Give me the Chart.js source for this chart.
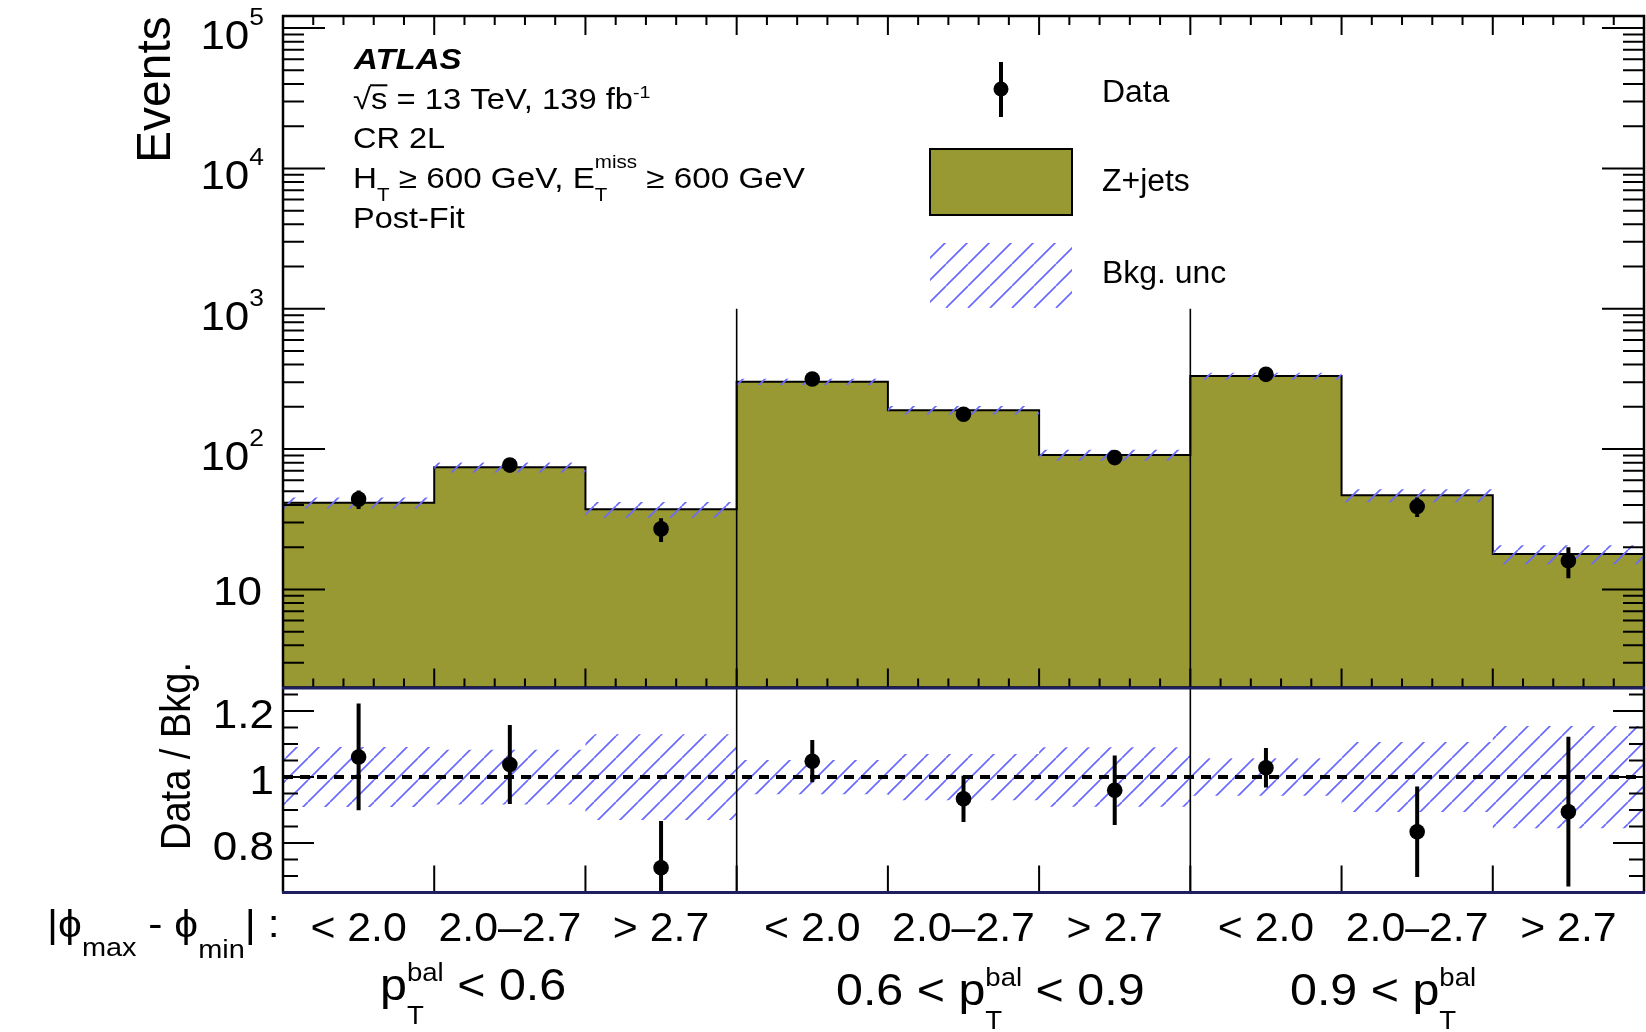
<!DOCTYPE html>
<html lang="en">
<head>
<meta charset="UTF-8">
<title>CR 2L post-fit yields</title>
<script src="https://cdn.jsdelivr.net/npm/chart.js"></script>
<style>
    body { margin: 0; background: #fff; }
    #wrap { position: relative; width: 1646px; height: 1032px; }
    canvas { position: absolute; left: 0; }
    #upper { top: 0; }
    #lower { top: 560px; }
</style>
</head>
<body>
<div id="wrap">
    <canvas id="upper" width="1646" height="688"></canvas>
    <canvas id="lower" width="1646" height="472"></canvas>
</div>
<script>
// nine bins: three |phi_max - phi_min| ranges in each of three pT^bal ranges
const phiBins = ['< 2.0', '2.0\u20132.7', '> 2.7', '< 2.0', '2.0\u20132.7', '> 2.7', '< 2.0', '2.0\u20132.7', '> 2.7'];
const zjetsYield = [41.5, 74.2, 37.2, 301.5, 189.5, 90.6, 331.5, 46.8, 17.9];
const dataYield = [44, 77, 27, 316, 177, 87, 341, 39, 16];
const dataErr = [6.6, 8.8, 5.2, 17.8, 13.3, 9.3, 18.5, 6.2, 4.0];
const bkgRelUnc = [0.091, 0.083, 0.13, 0.052, 0.07, 0.09, 0.057, 0.106, 0.155];
const ratioVal = [1.061, 1.038, 0.725, 1.048, 0.934, 0.960, 1.028, 0.834, 0.895];
const ratioErr = [0.162, 0.12, 0.142, 0.064, 0.07, 0.105, 0.06, 0.137, 0.227];
const regionEdges = [3, 6];
const decadeTicks = [10, 100, 1000, 10000, 100000];
const ratioTicks = [0.8, 1, 1.2];

const FONT = '"Liberation Sans", Arial, Helvetica, sans-serif';
const OLIVE = '#999933';
const HATCH = '#6a6aff';
const NAVY = '#1e1e60';
const LOWER_TOP = 560;

// diagonal hatch used for the background uncertainty
function hatchPattern() {
    const s = 22;
    const tile = document.createElement('canvas');
    tile.width = s; tile.height = s;
    const g = tile.getContext('2d');
    g.strokeStyle = HATCH;
    g.lineWidth = 1.7;
    g.beginPath();
    for (const o of [-s, 0, s]) { g.moveTo(o, s); g.lineTo(o + s, 0); }
    g.stroke();
    return g.createPattern(tile, 'repeat');
}
const hatch = hatchPattern();

// histogram outline: each bin becomes a flat segment
function steps(vals) {
    const pts = [];
    vals.forEach((v, i) => { pts.push({x: i, y: v}, {x: i + 1, y: v}); });
    return pts;
}
function centres(vals) {
    return vals.map((v, i) => ({x: i + 0.5, y: v}));
}
function errorBars(vals, errs) {
    const pts = [];
    vals.forEach((v, i) => {
        pts.push({x: i + 0.5, y: v - errs[i]}, {x: i + 0.5, y: v + errs[i]}, {x: i + 0.5, y: null});
    });
    return pts;
}
function verticals(lo, hi) {
    const pts = [];
    regionEdges.forEach(e => { pts.push({x: e, y: lo}, {x: e, y: hi}, {x: e, y: null}); });
    return pts;
}

// text with sub/superscripts; parts are drawn left to right
function richText(ctx, x, y, parts, size, opt) {
    opt = opt || {};
    const sx = opt.sx || 1;
    const items = parts.map(p => {
        const fs = size * (p.k || 1);
        const font = `${p.style || opt.style || ''} ${fs}px ${FONT}`;
        ctx.font = font;
        return Object.assign({}, p, {fs, font, w: ctx.measureText(p.t).width * sx});
    });
    let total = 0, held = 0;
    items.forEach(it => {
        if (it.keep) held = it.w;
        else { total += Math.max(held, it.w); held = 0; }
    });
    let cx = opt.align === 'right' ? x - total : opt.align === 'center' ? x - total / 2 : x;
    held = 0;
    ctx.textAlign = 'left';
    ctx.textBaseline = 'alphabetic';
    items.forEach(it => {
        ctx.font = it.font;
        ctx.save();
        ctx.translate(cx, y + (it.dy || 0));
        ctx.scale(sx, 1);
        ctx.fillText(it.t, 0, 0);
        if (it.over) {
            ctx.lineWidth = it.fs * 0.07;
            ctx.beginPath();
            ctx.moveTo(-1, -it.fs * 0.8);
            ctx.lineTo(it.w / sx, -it.fs * 0.8);
            ctx.stroke();
        }
        ctx.restore();
        if (it.keep) held = it.w;
        else { cx += Math.max(held, it.w); held = 0; }
    });
    return total;
}

const upperFrame = {
    id: 'upperFrame',
    afterDraw(chart) {
        const {ctx, chartArea: a, scales: {x, y}} = chart;
        ctx.save();
        ctx.strokeStyle = '#000';
        ctx.fillStyle = '#000';
        ctx.lineWidth = 2;
        ctx.beginPath();
        for (let e = 0; e <= 5; e++) {
            for (let m = 1; m <= 9; m++) {
                const v = m * Math.pow(10, e);
                if (v <= y.min || v >= y.max) continue;
                const py = y.getPixelForValue(v);
                const len = m === 1 ? 42 : 21;
                ctx.moveTo(a.left, py); ctx.lineTo(a.left + len, py);
                ctx.moveTo(a.right, py); ctx.lineTo(a.right - len, py);
            }
        }
        for (let i = 0; i <= 45; i++) {
            const px = x.getPixelForValue(i / 5);
            const len = i % 5 === 0 ? 19 : 9;
            ctx.moveTo(px, a.bottom); ctx.lineTo(px, a.bottom - len);
            ctx.moveTo(px, a.top); ctx.lineTo(px, a.top + len);
        }
        ctx.stroke();
        ctx.lineWidth = 2.5;
        ctx.strokeRect(a.left, a.top, a.right - a.left, a.bottom - a.top);

        // decade labels
        decadeTicks.forEach(v => {
            const py = y.getPixelForValue(v);
            const k = Math.round(Math.log10(v));
            if (k === 1) richText(ctx, 262, py + 16, [{t: '10'}], 40, {align: 'right', sx: 1.1});
            else richText(ctx, 264, py + 21, [{t: '10'}, {t: String(k), k: 0.6, dy: -24}], 40, {align: 'right', sx: 1.1});
        });

        // axis title
        ctx.save();
        ctx.translate(170, 163);
        ctx.rotate(-Math.PI / 2);
        ctx.font = `48px ${FONT}`;
        ctx.textAlign = 'left';
        ctx.fillText('Events', 0, 0);
        ctx.restore();

        // ATLAS label block
        richText(ctx, 354, 68.5, [{t: 'ATLAS'}], 30, {style: 'italic bold', sx: 1.1});
        richText(ctx, 353, 108.5, [{t: '\u221A'}, {t: 's', over: true}, {t: ' = 13 TeV, 139 fb'}, {t: '-1', k: 0.6, dy: -11}], 29, {sx: 1.13});
        richText(ctx, 353, 148, [{t: 'CR 2L'}], 29, {sx: 1.12});
        richText(ctx, 353, 187.5, [
            {t: 'H'}, {t: 'T', k: 0.62, dy: 13}, {t: ' \u2265 600 GeV, E'},
            {t: 'miss', k: 0.62, dy: -20, keep: true}, {t: 'T', k: 0.62, dy: 13},
            {t: ' \u2265 600 GeV'}], 29, {sx: 1.145});
        richText(ctx, 353, 228, [{t: 'Post-Fit'}], 29, {sx: 1.12});

        // legend
        ctx.lineWidth = 4;
        ctx.beginPath();
        ctx.moveTo(1001, 62); ctx.lineTo(1001, 117);
        ctx.stroke();
        ctx.beginPath();
        ctx.arc(1001, 89, 7.5, 0, Math.PI * 2);
        ctx.fill();
        ctx.fillStyle = OLIVE;
        ctx.fillRect(930, 149, 142, 66);
        ctx.lineWidth = 2;
        ctx.strokeRect(930, 149, 142, 66);
        ctx.fillStyle = hatch;
        ctx.fillRect(930, 243, 142, 65);
        ctx.fillStyle = '#000';
        richText(ctx, 1102, 102, [{t: 'Data'}], 31, {sx: 1.03});
        richText(ctx, 1102, 191, [{t: 'Z+jets'}], 31, {sx: 1.03});
        richText(ctx, 1102, 283, [{t: 'Bkg. unc'}], 31, {sx: 1.03});
        ctx.restore();
    }
};

const lowerFrame = {
    id: 'lowerFrame',
    afterDraw(chart) {
        const {ctx, chartArea: a, scales: {x, y}} = chart;
        ctx.save();
        ctx.strokeStyle = '#000';
        ctx.fillStyle = '#000';
        ctx.lineWidth = 2;
        ctx.beginPath();
        for (let i = 14; i <= 25; i++) {
            const py = y.getPixelForValue(i * 0.05);
            const len = i % 4 === 0 ? 31 : 15;
            ctx.moveTo(a.left, py); ctx.lineTo(a.left + len, py);
            ctx.moveTo(a.right, py); ctx.lineTo(a.right - len, py);
        }
        for (let i = 1; i < 9; i++) {
            const px = x.getPixelForValue(i);
            ctx.moveTo(px, a.bottom); ctx.lineTo(px, a.bottom - 27);
        }
        ctx.stroke();
        ctx.lineWidth = 2.5;
        ctx.beginPath();
        ctx.moveTo(a.left, a.top); ctx.lineTo(a.left, a.bottom);
        ctx.moveTo(a.right, a.top); ctx.lineTo(a.right, a.bottom);
        ctx.stroke();
        ctx.strokeStyle = NAVY;
        ctx.lineWidth = 3;
        ctx.beginPath();
        ctx.moveTo(a.left - 1, a.top); ctx.lineTo(a.right + 1, a.top);
        ctx.moveTo(a.left - 1, a.bottom); ctx.lineTo(a.right + 1, a.bottom);
        ctx.stroke();
        ctx.strokeStyle = '#000';

        ratioTicks.forEach(v => {
            const py = y.getPixelForValue(v);
            richText(ctx, 274, py + 16.5, [{t: String(v)}], 40, {align: 'right', sx: 1.1});
        });

        // page coordinates below this point
        ctx.translate(0, -LOWER_TOP);
        ctx.save();
        ctx.translate(190, 850);
        ctx.rotate(-Math.PI / 2);
        ctx.scale(1, 1.12);
        ctx.font = `38px ${FONT}`;
        ctx.textAlign = 'left';
        ctx.fillText('Data / Bkg.', 0, 0);
        ctx.restore();

        phiBins.forEach((lab, i) => {
            richText(ctx, x.getPixelForValue(i + 0.5), 941, [{t: lab}], 40, {align: 'center', sx: 1.07});
        });
        richText(ctx, 47, 937, [
            {t: '|'}, {t: '\u03D5'}, {t: 'max', k: 0.68, dy: 19}, {t: ' - '},
            {t: '\u03D5'}, {t: 'min', k: 0.68, dy: 21}, {t: '|'}, {t: ' :'}], 38, {sx: 1.12});

        const sup = {t: 'bal', k: 0.57, dy: -19, keep: true};
        const sub = {t: 'T', k: 0.57, dy: 24};
        richText(ctx, 380, 1000, [{t: 'p'}, sup, sub, {t: ' < 0.6'}], 44, {sx: 1.1});
        richText(ctx, 836, 1005, [{t: '0.6 < p'}, sup, sub, {t: ' < 0.9'}], 44, {sx: 1.1});
        richText(ctx, 1290, 1005, [{t: '0.9 < p'}, sup, sub], 44, {sx: 1.1});
        ctx.restore();
    }
};

const lineBase = {type: 'line', pointRadius: 0, pointHitRadius: 0, fill: false, tension: 0};

new Chart(document.getElementById('upper'), {
    data: {
        datasets: [
            {type: 'line', label: 'Data', data: centres(dataYield), showLine: false,
             pointRadius: 7.8, pointBackgroundColor: '#000', pointBorderWidth: 0, order: 0},
            Object.assign({}, lineBase, {label: 'data err', data: errorBars(dataYield, dataErr),
             borderColor: '#000', borderWidth: 4, order: 1}),
            Object.assign({}, lineBase, {label: 'regions', data: verticals(1000, 2),
             borderColor: '#000', borderWidth: 1.6, order: 2}),
            Object.assign({}, lineBase, {label: 'unc low', data: steps(zjetsYield.map((v, i) => v * (1 - bkgRelUnc[i]))),
             borderWidth: 0, borderColor: 'rgba(0,0,0,0)', order: 3}),
            Object.assign({}, lineBase, {label: 'Bkg. unc', data: steps(zjetsYield.map((v, i) => v * (1 + bkgRelUnc[i]))),
             borderWidth: 0, borderColor: 'rgba(0,0,0,0)', fill: '-1', backgroundColor: hatch, order: 3}),
            Object.assign({}, lineBase, {label: 'Z+jets', data: steps(zjetsYield),
             borderColor: '#000', borderWidth: 2, fill: 'start', backgroundColor: OLIVE, order: 5})
        ]
    },
    options: {
        responsive: false,
        animation: false,
        devicePixelRatio: 1,
        layout: {autoPadding: false, padding: {left: 283, right: 2, top: 16, bottom: 0.5}},
        plugins: {legend: {display: false}, tooltip: {enabled: false}},
        scales: {
            x: {type: 'linear', min: 0, max: 9, display: false},
            y: {type: 'logarithmic', min: 2, max: 1.22e5, bounds: 'data', display: false}
        }
    },
    plugins: [upperFrame]
});

new Chart(document.getElementById('lower'), {
    data: {
        datasets: [
            {type: 'line', label: 'Data / Bkg.', data: centres(ratioVal), showLine: false,
             pointRadius: 7.8, pointBackgroundColor: '#000', pointBorderWidth: 0, order: 0},
            Object.assign({}, lineBase, {label: 'ratio err', data: errorBars(ratioVal, ratioErr),
             borderColor: '#000', borderWidth: 4, order: 1}),
            Object.assign({}, lineBase, {label: 'unity', data: [{x: 0, y: 1}, {x: 9, y: 1}],
             borderColor: '#000', borderWidth: 4, borderDash: [10, 7], order: 2}),
            Object.assign({}, lineBase, {label: 'regions', data: verticals(0.65, 1.27),
             borderColor: '#000', borderWidth: 1.6, order: 2}),
            Object.assign({}, lineBase, {label: 'unc low', data: steps(bkgRelUnc.map(u => 1 - u)),
             borderWidth: 0, borderColor: 'rgba(0,0,0,0)', order: 3}),
            Object.assign({}, lineBase, {label: 'Bkg. unc', data: steps(bkgRelUnc.map(u => 1 + u)),
             borderWidth: 0, borderColor: 'rgba(0,0,0,0)', fill: '-1', backgroundColor: hatch, order: 3})
        ]
    },
    options: {
        responsive: false,
        animation: false,
        devicePixelRatio: 1,
        layout: {autoPadding: false, padding: {left: 283, right: 2, top: 128, bottom: 139.5}},
        plugins: {legend: {display: false}, tooltip: {enabled: false}},
        scales: {
            x: {type: 'linear', min: 0, max: 9, display: false},
            y: {type: 'linear', min: 0.65, max: 1.27, bounds: 'data', display: false}
        }
    },
    plugins: [lowerFrame]
});
</script>
</body>
</html>
